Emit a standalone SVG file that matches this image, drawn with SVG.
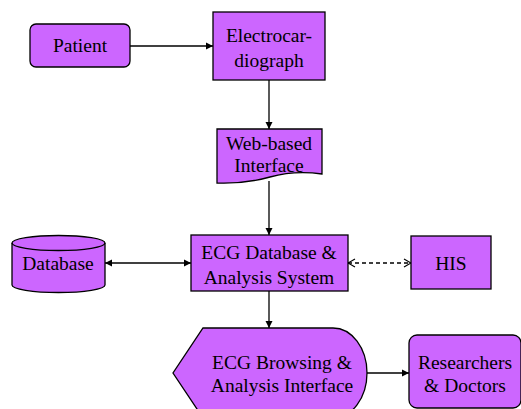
<svg xmlns="http://www.w3.org/2000/svg" width="521" height="409" viewBox="0 0 521 409" font-family="Liberation Serif" font-size="19.5" text-anchor="middle">
<defs>
<style>
.n{fill:#cc66ff;stroke:#000;stroke-width:1.3}
.c{stroke:#000;stroke-width:1.3;fill:none}
.d{stroke-dasharray:4,3}
</style>
<marker id="a" markerWidth="8" markerHeight="8" refX="7" refY="4" orient="auto-start-reverse" markerUnits="userSpaceOnUse">
<path d="M0,0.5 L7,4 L0,7.5 Z" fill="#000"/>
</marker>
<marker id="o" markerWidth="9" markerHeight="10" refX="8" refY="5" orient="auto-start-reverse" markerUnits="userSpaceOnUse">
<path d="M1,1 L8,5 L1,9" fill="none" stroke="#000" stroke-width="1.2"/>
</marker>
</defs>
<rect width="521" height="409" fill="#fff"/>
<g id="connectors">
<line class="c" x1="130" y1="46" x2="213" y2="46" marker-end="url(#a)"/>
<line class="c" x1="269" y1="80" x2="269" y2="129" marker-end="url(#a)"/>
<line class="c" x1="269" y1="181" x2="269" y2="235" marker-end="url(#a)"/>
<line class="c" x1="105" y1="263" x2="191" y2="263" marker-start="url(#a)" marker-end="url(#a)"/>
<line class="c d" x1="348" y1="263" x2="411" y2="263" marker-start="url(#o)" marker-end="url(#o)"/>
<line class="c" x1="269" y1="291" x2="269" y2="328" marker-end="url(#a)"/>
<line class="c" x1="367" y1="373" x2="409" y2="373" marker-end="url(#a)"/>
</g>
<g id="patient">
<rect class="n" x="30" y="24" width="100" height="43" rx="6"/>
<text x="80" y="52">Patient</text>
</g>
<g id="electrocardiograph">
<rect class="n" x="213" y="12" width="112" height="68"/>
<text x="269" y="42">Electrocar-</text>
<text x="269" y="67">diograph</text>
</g>
<g id="web">
<path class="n" d="M217,129 H322 V174 Q295,170 270,177 T217,183 Z"/>
<text x="269" y="150">Web-based</text>
<text x="269" y="172">Interface</text>
</g>
<g id="ecgdb">
<rect class="n" x="191" y="235" width="157" height="56"/>
<text x="269" y="259">ECG Database &amp;</text>
<text x="269" y="284">Analysis System</text>
</g>
<g id="database">
<path class="n" d="M12,243 A46.5,7.5 0 0 1 105,243 V285 A46.5,7.5 0 0 1 12,285 Z"/>
<path class="c" d="M12,243 A46.5,7.5 0 0 0 105,243"/>
<text x="58" y="270">Database</text>
</g>
<g id="his">
<rect class="n" x="411" y="236" width="80" height="53"/>
<text x="451" y="270">HIS</text>
</g>
<g id="browsing">
<path class="n" d="M203,328 H333 A34,45 0 0 1 367,373 A34,45 0 0 1 333,418 H203 L173,373 Z"/>
<text x="282" y="369">ECG Browsing &amp;</text>
<text x="282" y="392">Analysis Interface</text>
</g>
<g id="researchers">
<rect class="n" x="409" y="335" width="112" height="73" rx="8"/>
<text x="465" y="369">Researchers</text>
<text x="465" y="392">&amp; Doctors</text>
</g>
</svg>
